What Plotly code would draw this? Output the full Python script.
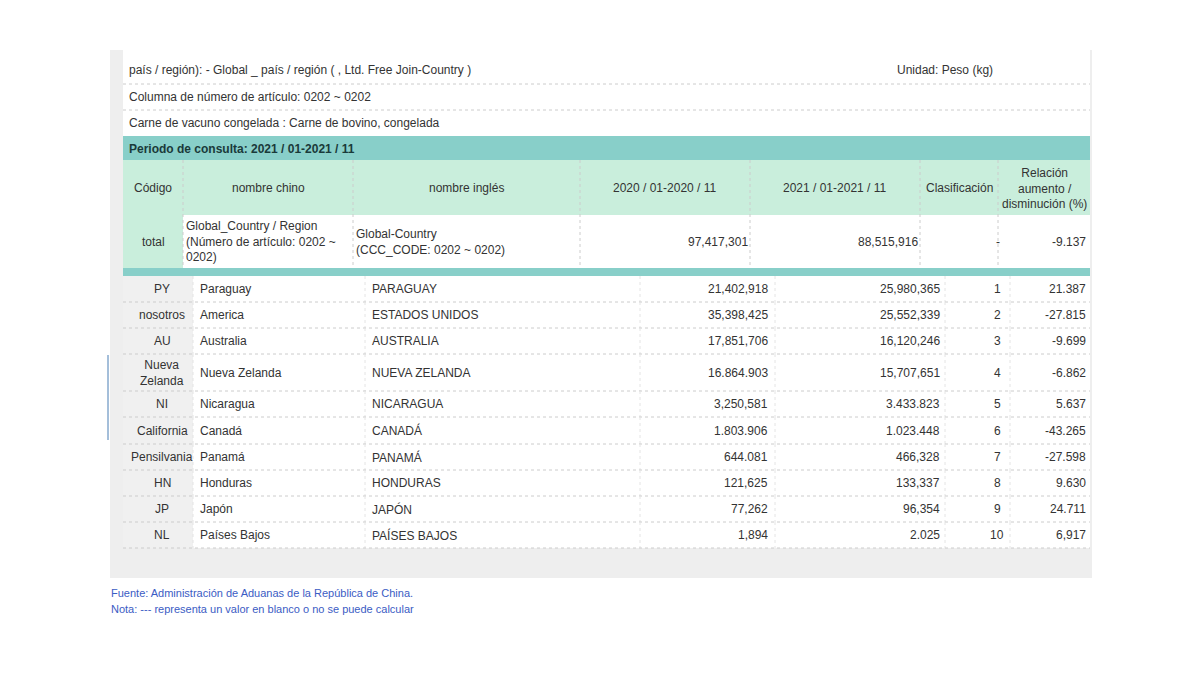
import plotly.graph_objects as go

# datos de la tabla
codigos = ["PY", "nosotros", "AU", "Nueva<br>Zelanda", "NI", "California", "Pensilvania", "HN", "JP", "NL"]
nombre_chino = ["Paraguay", "America", "Australia", "Nueva Zelanda", "Nicaragua", "Canadá", "Panamá",
                "Honduras", "Japón", "Países Bajos"]
nombre_ingles = ["PARAGUAY", "ESTADOS UNIDOS", "AUSTRALIA", "NUEVA ZELANDA", "NICARAGUA", "CANADÁ",
                 "PANAMÁ", "HONDURAS", "JAPÓN", "PAÍSES BAJOS"]
valores_2020 = ["21,402,918", "35,398,425", "17,851,706", "16.864.903", "3,250,581", "1.803.906",
                "644.081", "121,625", "77,262", "1,894"]
valores_2021 = ["25,980,365", "25,552,339", "16,120,246", "15,707,651", "3.433.823", "1.023.448",
                "466,328", "133,337", "96,354", "2.025"]
clasificacion = ["1", "2", "3", "4", "5", "6", "7", "8", "9", "10"]
relacion = ["21.387", "-27.815", "-9.699", "-6.862", "5.637", "-43.265", "-27.598", "9.630", "24.711", "6,917"]

encabezados = ["Código", "nombre chino", "nombre inglés", "2020 / 01-2020 / 11", "2021 / 01-2021 / 11",
               "Clasificación", "Relación<br>aumento /<br>disminución (%)"]
total = ["total", "Global_Country / Region<br>(Número de artículo: 0202 ~<br>0202)",
         "Global-Country<br>(CCC_CODE: 0202 ~ 0202)", "97,417,301", "88,515,916", "-", "-9.137"]

FONT = "Liberation Sans, Arial, sans-serif"
TXT = "#333333"
TEAL = "#88cfc9"
MINT = "#c9eedc"
LINE = "#cccccc"

shapes = []
ann = []


def rect(x0, y0, x1, y1, color):
    shapes.append(dict(type="rect", x0=x0, y0=y0, x1=x1, y1=y1, fillcolor=color, line_width=0, layer="below"))


def hline(y, x0=123, x1=1090, dash="dot"):
    shapes.append(dict(type="line", x0=x0, x1=x1, y0=y, y1=y, line=dict(color=LINE, width=1, dash=dash)))


def vline(x, y0, y1, color=LINE):
    shapes.append(dict(type="line", x0=x, x1=x, y0=y0, y1=y1, line=dict(color=color, width=1, dash="dot")))


def text(x, y, t, anchor="left", color=TXT, size=12, bold=False):
    if bold:
        t = "<b>" + t + "</b>"
    ann.append(dict(x=x, y=y, text=t, xanchor=anchor, yanchor="middle", showarrow=False,
                    font=dict(family=FONT, size=size, color=color), align=anchor if anchor != "right" else "right"))


# marco
rect(110, 50, 1092, 578, "#eeeeee")
rect(123, 50, 1090, 548, "white")
shapes.append(dict(type="line", x0=108, x1=108, y0=355, y1=440, line=dict(color="#4a7fb5", width=1)))

# cabecera de texto
text(127, 70, "país / región): - Global _ país / región ( , Ltd. Free Join-Country )")
text(995, 70, "Unidad: Peso (kg)", anchor="right")
hline(84)
text(127, 97, "Columna de número de artículo: 0202 ~ 0202")
hline(110)
text(127, 123, "Carne de vacuno congelada : Carne de bovino, congelada")

rect(123, 136, 1090, 160, TEAL)
text(127, 149, "Periodo de consulta: 2021 / 01-2021 / 11", bold=True, color="#1a3a3a")

# encabezado de columnas
bordes_h = [123, 183, 353, 580, 750, 920, 998, 1090]
rect(123, 160, 1090, 215, MINT)
for i, h in enumerate(encabezados):
    text((bordes_h[i] + bordes_h[i + 1]) / 2, 188, h, anchor="center")
for x in bordes_h[1:-1]:
    vline(x, 160, 268)

# fila total
rect(123, 215, 183, 268, MINT)
text(153, 242, total[0], anchor="center")
text(184, 241, total[1])
text(354, 242, total[2])
text(750, 242, total[3], anchor="right")
text(920, 242, total[4], anchor="right")
text(998, 242, total[5], anchor="center")
text(1088, 242, total[6], anchor="right")
rect(123, 268, 1090, 276, TEAL)

# filas de datos
alturas = [26, 26, 26, 37, 26, 27, 26, 26, 26, 26]
bordes_d = [123, 193, 365, 640, 775, 945, 1010, 1090]
y = 276
for i in range(len(codigos)):
    y1 = y + alturas[i]
    ym = (y + y1) / 2
    rect(123, y, 193, y1, "#f0f0f0")
    text(162, ym, codigos[i], anchor="center")
    text(198, ym, nombre_chino[i])
    text(370, ym, nombre_ingles[i])
    text(770, ym, valores_2020[i], anchor="right")
    text(942, ym, valores_2021[i], anchor="right")
    text(997, ym, clasificacion[i], anchor="center")
    text(1088, ym, relacion[i], anchor="right")
    for x in bordes_d[1:-1]:
        vline(x, y, y1, color="#e4e4e4")
    hline(y1)
    y = y1

# notas al pie
text(109, 593, "Fuente: Administración de Aduanas de la República de China.", color="#3b5cc4", size=11)
text(109, 609, "Nota: --- representa un valor en blanco o no se puede calcular", color="#3b5cc4", size=11)

fig = go.Figure()
fig.update_layout(
    width=1200, height=675, margin=dict(l=0, r=0, t=0, b=0),
    paper_bgcolor="white", plot_bgcolor="white",
    xaxis=dict(range=[8, 1208], visible=False, fixedrange=True),
    yaxis=dict(range=[683, 8], visible=False, fixedrange=True),
    shapes=shapes, annotations=ann, showlegend=False,
)
fig.write_html("out.html")
